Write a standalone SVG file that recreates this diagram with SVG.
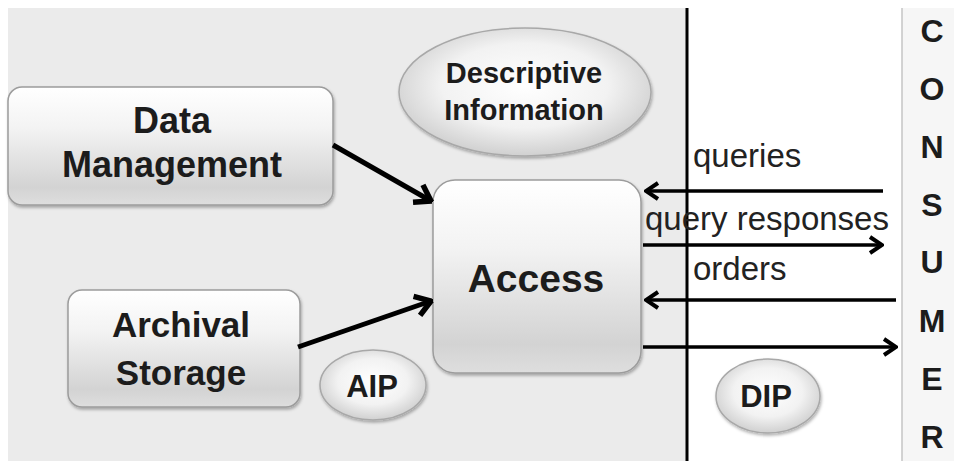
<svg xmlns="http://www.w3.org/2000/svg" width="954" height="461" viewBox="0 0 954 461">
<defs>
<linearGradient id="boxg" x1="0" y1="0" x2="0" y2="1">
<stop offset="0" stop-color="#ffffff"/>
<stop offset="0.35" stop-color="#f3f3f3"/>
<stop offset="0.85" stop-color="#d3d3d3"/>
<stop offset="1" stop-color="#dedede"/>
</linearGradient>
<radialGradient id="ellg" cx="0.5" cy="0.45" r="0.55">
<stop offset="0" stop-color="#ffffff"/>
<stop offset="0.6" stop-color="#f2f2f2"/>
<stop offset="1" stop-color="#d0d0d0"/>
</radialGradient>
<filter id="sh" x="-10%" y="-10%" width="120%" height="130%">
<feDropShadow dx="1" dy="2" stdDeviation="1.5" flood-color="#000" flood-opacity="0.3"/>
</filter>
<marker id="ah" markerUnits="userSpaceOnUse" viewBox="-16 -11 18 22" refX="0" refY="0" markerWidth="18" markerHeight="22" orient="auto">
<path d="M-12,-8 L0,0 L-12,8" fill="none" stroke="#000" stroke-width="4"/>
</marker>
<marker id="ahb" markerUnits="userSpaceOnUse" viewBox="-20 -13 22 26" refX="0" refY="0" markerWidth="22" markerHeight="26" orient="auto">
<path d="M-15,-10 L0,0 L-15,10" fill="none" stroke="#000" stroke-width="5.5"/>
</marker>
</defs>
<style>
.box{fill:url(#boxg);stroke:#9c9c9c;stroke-width:1.5;filter:url(#sh)}
.ell{fill:url(#ellg);stroke:#a8a8a8;stroke-width:1.5;filter:url(#sh)}
.bt{font-family:"Liberation Sans",Arial,sans-serif;font-weight:bold;fill:#1c1c1c;text-anchor:middle}
.lbl{font-family:"Liberation Sans",Arial,sans-serif;font-size:33px;fill:#222}
.cons{font-family:"Liberation Sans",Arial,sans-serif;font-weight:bold;font-size:32px;fill:#1c1c1c;text-anchor:middle}
.ar{stroke:#000;stroke-width:3.5;fill:none;marker-end:url(#ah)}
.arb{stroke:#000;stroke-width:5;fill:none;marker-end:url(#ahb)}
</style>
<rect x="0" y="0" width="954" height="461" fill="#ffffff"/>
<rect x="8" y="8" width="679" height="453" fill="#ebebeb"/>
<rect x="902" y="8" width="52" height="453" fill="#f6f6f6"/>
<line x1="902" y1="8" x2="902" y2="461" stroke="#c4c4c4" stroke-width="1.5"/>
<line x1="687" y1="8" x2="687" y2="461" stroke="#000" stroke-width="3"/>

<g id="descriptive-information">
<ellipse class="ell" cx="525" cy="92" rx="126" ry="64"/>
<text class="bt" x="524" y="83" font-size="29">Descriptive</text>
<text class="bt" x="524" y="120" font-size="29">Information</text>
</g>
<g id="data-management">
<rect class="box" x="8" y="87" width="325" height="118" rx="14"/>
<text class="bt" x="172" y="133" font-size="36">Data</text>
<text class="bt" x="172" y="177" font-size="36">Management</text>
</g>
<g id="archival-storage">
<rect class="box" x="68" y="290" width="232" height="117" rx="14"/>
<text class="bt" x="181" y="337" font-size="35">Archival</text>
<text class="bt" x="181" y="385" font-size="35">Storage</text>
</g>
<g id="aip">
<ellipse class="ell" cx="373" cy="385" rx="53" ry="35"/>
<text class="bt" x="372" y="397" font-size="31">AIP</text>
</g>
<g id="access">
<rect class="box" x="433" y="180" width="208" height="193" rx="22"/>
<text class="bt" x="536" y="292" font-size="39">Access</text>
</g>
<g id="dip">
<ellipse class="ell" cx="768" cy="396" rx="52" ry="37"/>
<text class="bt" x="766" y="407" font-size="31">DIP</text>
</g>
<g id="consumer">
<text class="cons" x="932" y="42">C</text>
<text class="cons" x="932" y="100">O</text>
<text class="cons" x="932" y="158">N</text>
<text class="cons" x="932" y="216">S</text>
<text class="cons" x="932" y="273">U</text>
<text class="cons" x="932" y="332">M</text>
<text class="cons" x="932" y="390">E</text>
<text class="cons" x="932" y="448">R</text>
</g>
<g id="connectors">
<line class="arb" x1="333" y1="145" x2="431" y2="201"/>
<line class="arb" x1="298" y1="347" x2="431" y2="301"/>
<line class="ar" x1="883" y1="191" x2="646" y2="191"/>
<line class="ar" x1="643" y1="245" x2="882" y2="245"/>
<line class="ar" x1="896" y1="300" x2="646" y2="300"/>
<line class="ar" x1="643" y1="347" x2="896" y2="347"/>
<text class="lbl" x="693" y="167">queries</text>
<text class="lbl" x="645" y="230">query responses</text>
<text class="lbl" x="693" y="280">orders</text>
</g>
</svg>
